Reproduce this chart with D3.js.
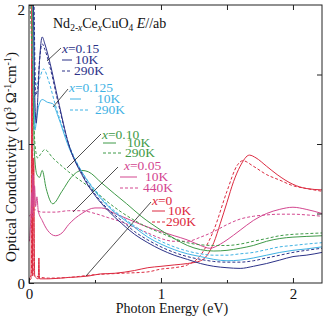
<!DOCTYPE html>
<html><head><meta charset="utf-8">
<script src="https://cdn.jsdelivr.net/npm/d3@7"></script>
<style>body{margin:0;background:#fff}svg{display:block}text{font-family:"Liberation Serif","Times New Roman",serif}</style>
</head><body><svg id="c" width="327" height="320"></svg>
<script>
// ---- data: photon energy (eV), conductivity (10^3 Ω^-1 cm^-1)
const x015_10K = [[0.004,2.1],[0.03,2.1],[0.045,1.3],[0.055,1.15],[0.065,1.3],[0.08,1.6],[0.1,1.77],[0.12,1.72],[0.16,1.58],[0.22,1.32],[0.3,1.0],[0.4,0.78],[0.5,0.63],[0.6,0.52],[0.7,0.43],[0.8,0.35],[0.9,0.29],[1.0,0.24],[1.1,0.2],[1.2,0.17],[1.3,0.14],[1.4,0.12],[1.5,0.11],[1.6,0.105],[1.7,0.12],[1.8,0.14],[1.9,0.165],[2.0,0.19],[2.1,0.2],[2.22,0.22]];
const x015_290K = [[0.004,2.1],[0.035,2.1],[0.05,1.35],[0.065,1.4],[0.08,1.6],[0.1,1.72],[0.12,1.68],[0.16,1.55],[0.22,1.3],[0.3,1.0],[0.4,0.79],[0.5,0.64],[0.6,0.53],[0.7,0.45],[0.8,0.37],[0.9,0.31],[1.0,0.26],[1.1,0.22],[1.2,0.19],[1.3,0.17],[1.4,0.155],[1.5,0.15],[1.6,0.15],[1.7,0.16],[1.8,0.18],[1.9,0.2],[2.0,0.22],[2.1,0.235],[2.22,0.25]];
const x0125_10K = [[0.004,2.1],[0.028,2.1],[0.045,1.1],[0.06,1.2],[0.075,1.28],[0.1,1.32],[0.14,1.3],[0.18,1.29],[0.22,1.2],[0.3,0.98],[0.4,0.8],[0.5,0.66],[0.6,0.55],[0.7,0.47],[0.8,0.4],[0.9,0.33],[1.0,0.28],[1.1,0.24],[1.2,0.21],[1.3,0.19],[1.4,0.17],[1.5,0.16],[1.6,0.165],[1.7,0.18],[1.8,0.2],[1.9,0.22],[2.0,0.235],[2.1,0.245],[2.22,0.26]];
const x0125_290K = [[0.004,2.1],[0.03,2.1],[0.045,1.5],[0.06,1.42],[0.08,1.47],[0.11,1.54],[0.15,1.45],[0.2,1.28],[0.3,1.0],[0.4,0.8],[0.5,0.67],[0.6,0.56],[0.7,0.48],[0.8,0.41],[0.9,0.35],[1.0,0.3],[1.1,0.26],[1.2,0.23],[1.3,0.21],[1.4,0.2],[1.5,0.2],[1.6,0.21],[1.7,0.22],[1.8,0.24],[1.9,0.26],[2.0,0.27],[2.1,0.28],[2.22,0.29]];
const x010_10K = [[0.004,2.1],[0.022,2.1],[0.04,0.95],[0.06,0.78],[0.08,0.76],[0.1,0.81],[0.13,0.68],[0.18,0.57],[0.25,0.66],[0.32,0.76],[0.4,0.81],[0.45,0.8],[0.55,0.72],[0.65,0.64],[0.74,0.57],[0.85,0.48],[1.0,0.38],[1.1,0.32],[1.2,0.27],[1.3,0.24],[1.4,0.23],[1.5,0.235],[1.6,0.25],[1.7,0.27],[1.8,0.3],[1.9,0.32],[2.0,0.33],[2.1,0.335],[2.22,0.34]];
const x010_290K = [[0.004,2.1],[0.025,1.6],[0.045,1.0],[0.065,0.9],[0.09,0.93],[0.12,0.96],[0.18,0.9],[0.25,0.84],[0.3,0.8],[0.4,0.73],[0.5,0.66],[0.6,0.58],[0.7,0.51],[0.8,0.45],[0.9,0.4],[1.0,0.36],[1.1,0.32],[1.2,0.29],[1.3,0.275],[1.4,0.27],[1.5,0.27],[1.6,0.28],[1.7,0.3],[1.8,0.32],[1.9,0.34],[2.0,0.35],[2.1,0.355],[2.22,0.36]];
const x005_10K = [[0.004,0.3],[0.015,0.5],[0.02,0.65],[0.025,0.5],[0.03,0.78],[0.035,0.55],[0.042,0.7],[0.05,0.55],[0.06,0.62],[0.07,0.52],[0.1,0.45],[0.14,0.38],[0.2,0.34],[0.25,0.36],[0.3,0.42],[0.4,0.5],[0.5,0.54],[0.55,0.54],[0.65,0.5],[0.75,0.46],[0.85,0.42],[1.0,0.37],[1.1,0.34],[1.2,0.31],[1.3,0.27],[1.37,0.25],[1.45,0.28],[1.5,0.31],[1.6,0.38],[1.7,0.45],[1.8,0.5],[1.9,0.53],[2.0,0.545],[2.1,0.53],[2.22,0.5]];
const x005_440K = [[0.004,0.48],[0.02,0.5],[0.03,0.47],[0.04,0.53],[0.06,0.52],[0.1,0.51],[0.2,0.51],[0.3,0.52],[0.4,0.52],[0.5,0.5],[0.6,0.47],[0.7,0.44],[0.8,0.4],[0.9,0.36],[1.0,0.32],[1.1,0.3],[1.2,0.3],[1.3,0.33],[1.4,0.37],[1.5,0.42],[1.6,0.46],[1.7,0.48],[1.8,0.49],[1.9,0.495],[2.0,0.495],[2.1,0.49],[2.22,0.48]];
const x0_10K = [[0.004,0.02],[0.015,0.03],[0.022,2.1],[0.028,0.05],[0.036,0.9],[0.043,0.05],[0.07,0.03],[0.075,0.18],[0.08,0.03],[0.15,0.03],[0.3,0.04],[0.45,0.05],[0.54,0.065],[0.65,0.07],[0.8,0.09],[0.9,0.11],[1.0,0.12],[1.1,0.13],[1.2,0.14],[1.3,0.16],[1.35,0.2],[1.4,0.29],[1.45,0.43],[1.5,0.58],[1.55,0.73],[1.6,0.84],[1.67,0.92],[1.72,0.9],[1.8,0.84],[1.88,0.78],[2.0,0.71],[2.1,0.68],[2.22,0.67]];
const x0_290K = [[0.004,0.04],[0.018,0.06],[0.025,1.6],[0.032,0.08],[0.05,0.05],[0.15,0.035],[0.3,0.04],[0.5,0.06],[0.7,0.07],[0.9,0.08],[1.0,0.1],[1.1,0.11],[1.2,0.13],[1.3,0.2],[1.4,0.38],[1.5,0.66],[1.58,0.85],[1.62,0.88],[1.7,0.84],[1.8,0.78],[1.9,0.74],[2.0,0.7],[2.1,0.68],[2.22,0.66]];

const dopings = ["x=0.15","x=0.125","x=0.10","x=0.05","x=0"];
const tempLow = ["10K","10K","10K","10K","10K"];
const tempHigh = ["290K","290K","290K","440K","290K"];
const xTicks = [0,1,2];
const yTicks = [0,1,2];

// ---- styling / layout
const colors = ["#2c3288","#3fb2e4","#3f9a48","#d3468f","#dc2a40"];
const seriesLow = [x015_10K,x0125_10K,x010_10K,x005_10K,x0_10K];
const seriesHigh = [x015_290K,x0125_290K,x010_290K,x005_440K,x0_290K];

const svg = d3.select("#c");
const L=29,R=322,T=5,B=283;
const x = d3.scaleLinear().domain([0,2.22]).range([L,R]);
const y = d3.scaleLinear().domain([0,2.0]).range([B,T]);

svg.append("clipPath").attr("id","clip").append("rect").attr("x",L).attr("y",T).attr("width",R-L).attr("height",B-T);

const line = d3.line().x(d=>x(d[0])).y(d=>y(d[1])).curve(d3.curveMonotoneX);
const g = svg.append("g").attr("clip-path","url(#clip)");
[4,3,2,1,0].forEach(i=>{
  g.append("path").datum(seriesHigh[i]).attr("d",line).attr("fill","none")
    .attr("stroke",colors[i]).attr("stroke-width",1).attr("stroke-dasharray","3,2");
  g.append("path").datum(seriesLow[i]).attr("d",line).attr("fill","none")
    .attr("stroke",colors[i]).attr("stroke-width",1);
});

// frame
svg.append("rect").attr("x",L).attr("y",T).attr("width",R-L).attr("height",B-T)
  .attr("fill","none").attr("stroke","#222").attr("stroke-width",1);

// axes (inner ticks)
const axB = d3.axisBottom(x).tickValues(xTicks).tickSize(-5).tickFormat(d3.format("d"));
const gB = svg.append("g").attr("transform",`translate(0,${B})`).call(axB);
const axT = d3.axisTop(x).tickValues([0.5,1,1.5,2]).tickSize(-5).tickFormat("");
svg.append("g").attr("transform",`translate(0,${T})`).call(axT);
const axBm = d3.axisBottom(x).tickValues([0.5,1.5]).tickSize(-3).tickFormat("");
svg.append("g").attr("transform",`translate(0,${B})`).call(axBm);
const axL = d3.axisLeft(y).tickValues(yTicks).tickSize(-5).tickFormat(d3.format("d"));
const gL = svg.append("g").attr("transform",`translate(${L},0)`).call(axL);
const axR = d3.axisRight(y).tickValues([0.5,1,1.5]).tickSize(-5).tickFormat("");
svg.append("g").attr("transform",`translate(${R},0)`).call(axR);
svg.selectAll(".domain").remove();
svg.selectAll(".tick line").attr("stroke","#222");
svg.selectAll(".tick text").attr("font-family","Liberation Serif").attr("font-size",15).attr("fill","#111");
gB.selectAll(".tick text").attr("dy","0.95em").attr("y",2);
gL.selectAll(".tick text").attr("x",-4).attr("dy",d=>d===2?"0.62em":"0.35em");

// axis titles
svg.append("text").attr("x",172).attr("y",313).attr("text-anchor","middle").attr("font-size",14).attr("fill","#111").text("Photon Energy (eV)");
const yl = svg.append("text").attr("transform","translate(16,157) rotate(-90)").attr("text-anchor","middle").attr("font-size",15).attr("fill","#111");
yl.append("tspan").text("Optical Conductivity (10");
yl.append("tspan").attr("dy",-5).attr("font-size",10).text("3");
yl.append("tspan").attr("dy",5).text(" Ω");
yl.append("tspan").attr("dy",-5).attr("font-size",10).text("-1");
yl.append("tspan").attr("dy",5).text("cm");
yl.append("tspan").attr("dy",-5).attr("font-size",10).text("-1");
yl.append("tspan").attr("dy",5).text(")");

// title
const tt = svg.append("text").attr("x",53).attr("y",28).attr("font-size",14).attr("fill","#111");
tt.append("tspan").text("Nd");
tt.append("tspan").attr("dy",3).attr("font-size",9.5).text("2-");
tt.append("tspan").attr("font-size",9.5).attr("font-style","italic").text("x");
tt.append("tspan").attr("dy",-3).text("Ce");
tt.append("tspan").attr("dy",3).attr("font-size",9.5).attr("font-style","italic").text("x");
tt.append("tspan").attr("dy",-3).text("CuO");
tt.append("tspan").attr("dy",3).attr("font-size",9.5).text("4");
tt.append("tspan").attr("dy",-3).text(" ");
tt.append("tspan").attr("font-style","italic").text("E");
tt.append("tspan").text("//ab");

// labels with legend lines
const labelPos = [
  {x:62,y:53,lx:62,lw:10,tx:75,ty1:64,ty2:75,dx:62,dw:10,pl:[[61,48],[47,61]]},
  {x:69,y:92,lx:70,lw:11,tx:97,ty1:103,ty2:114,dx:70,dw:19,pl:[[68,89],[53,107]]},
  {x:102,y:139,lx:103,lw:13,tx:127,ty1:147,ty2:157,dx:103,dw:19,pl:[[101,134],[67,168]]},
  {x:124,y:170,lx:120,lw:17,tx:145,ty1:181,ty2:192,dx:120,dw:19,pl:[[118,167],[73,212]]},
  {x:152,y:205,lx:152,lw:13,tx:168,ty1:215,ty2:226,dx:152,dw:13,pl:[[151,202],[86,276]]}
];
labelPos.forEach((p,i)=>{
  const c = colors[i];
  const t = svg.append("text").attr("x",p.x).attr("y",p.y).attr("font-size",13.5).attr("fill",c);
  const parts = dopings[i].split("=");
  t.append("tspan").attr("font-style","italic").text(parts[0]);
  t.append("tspan").text("="+parts[1]);
  svg.append("line").attr("x1",p.lx).attr("x2",p.lx+p.lw).attr("y1",p.ty1-4).attr("y2",p.ty1-4).attr("stroke",c).attr("stroke-width",1);
  svg.append("text").attr("x",p.tx).attr("y",p.ty1).attr("font-size",13.5).attr("fill",c).text(tempLow[i]);
  svg.append("line").attr("x1",p.dx).attr("x2",p.dx+p.dw).attr("y1",p.ty2-4).attr("y2",p.ty2-4).attr("stroke",c).attr("stroke-width",1).attr("stroke-dasharray","3,2");
  svg.append("text").attr("x",i===0?p.tx-1:p.tx-2).attr("y",p.ty2).attr("font-size",13.5).attr("fill",c).text(tempHigh[i]);
  svg.append("line").attr("x1",p.pl[0][0]).attr("y1",p.pl[0][1]).attr("x2",p.pl[1][0]).attr("y2",p.pl[1][1]).attr("stroke","#222").attr("stroke-width",0.8);
});
</script></body></html>
